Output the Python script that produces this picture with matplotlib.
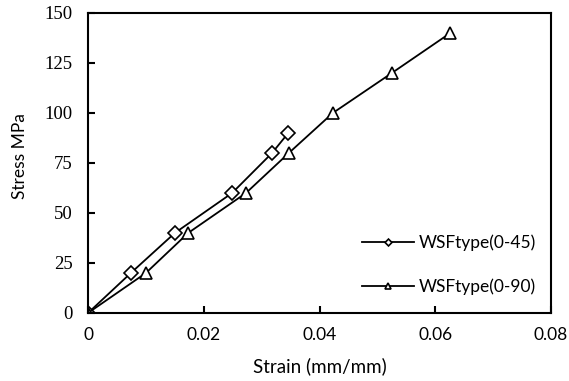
import matplotlib.pyplot as plt

# strain (mm/mm) and stress (MPa)
strain_45 = [0, 0.0074, 0.0150, 0.0249, 0.0318, 0.0346]
stress_45 = [0, 20, 40, 60, 80, 90]

strain_90 = [0, 0.0100, 0.0173, 0.0273, 0.0347, 0.0423, 0.0525, 0.0626]
stress_90 = [0, 20, 40, 60, 80, 100, 120, 140]

sans = ['Lato', 'DejaVu Sans']
serif = ['Liberation Serif', 'DejaVu Serif']

fig = plt.figure(figsize=(5.69, 3.81), dpi=100)
ax = fig.add_axes([0.1547, 0.1785, 0.8137, 0.7874])

ax.plot(strain_45, stress_45, color='black', lw=1.3, marker='D', ms=7,
        mfc='white', mec='black', mew=1.2, label='WSFtype(0-45)')
ax.plot(strain_90, stress_90, color='black', lw=1.3, marker='^', ms=9,
        mfc='white', mec='black', mew=1.2, label='WSFtype(0-90)')

ax.set_xlim(0, 0.08)
ax.set_ylim(0, 150)
ax.set_xticks([0, 0.02, 0.04, 0.06, 0.08])
ax.set_xticklabels(['0', '0.02', '0.04', '0.06', '0.08'], family=sans, fontsize=12.5)
ax.set_yticks([0, 25, 50, 75, 100, 125, 150])
ax.set_yticklabels(['0', '25', '50', '75', '100', '125', '150'], family=serif, fontsize=13.5)
ax.tick_params(axis='x', direction='in', length=5, width=1.5, pad=10)
ax.tick_params(axis='y', direction='in', length=5, width=1.5, pad=11)
for s in ax.spines.values():
    s.set_linewidth(1.5)

ax.set_xlabel('Strain (mm/mm)', family=sans, fontsize=13.5, labelpad=10)
ax.set_ylabel('Stress MPa', family=sans, fontsize=12.5)
ax.yaxis.set_label_coords(-0.13, 0.523)

ax.legend(loc='lower right', bbox_to_anchor=(1.002, 0.008), frameon=False,
          prop={'family': sans, 'size': 12.5}, markerscale=0.5,
          handlelength=3.0, handletextpad=0.3, labelspacing=1.6)

fig.savefig('out.png', dpi=100)
